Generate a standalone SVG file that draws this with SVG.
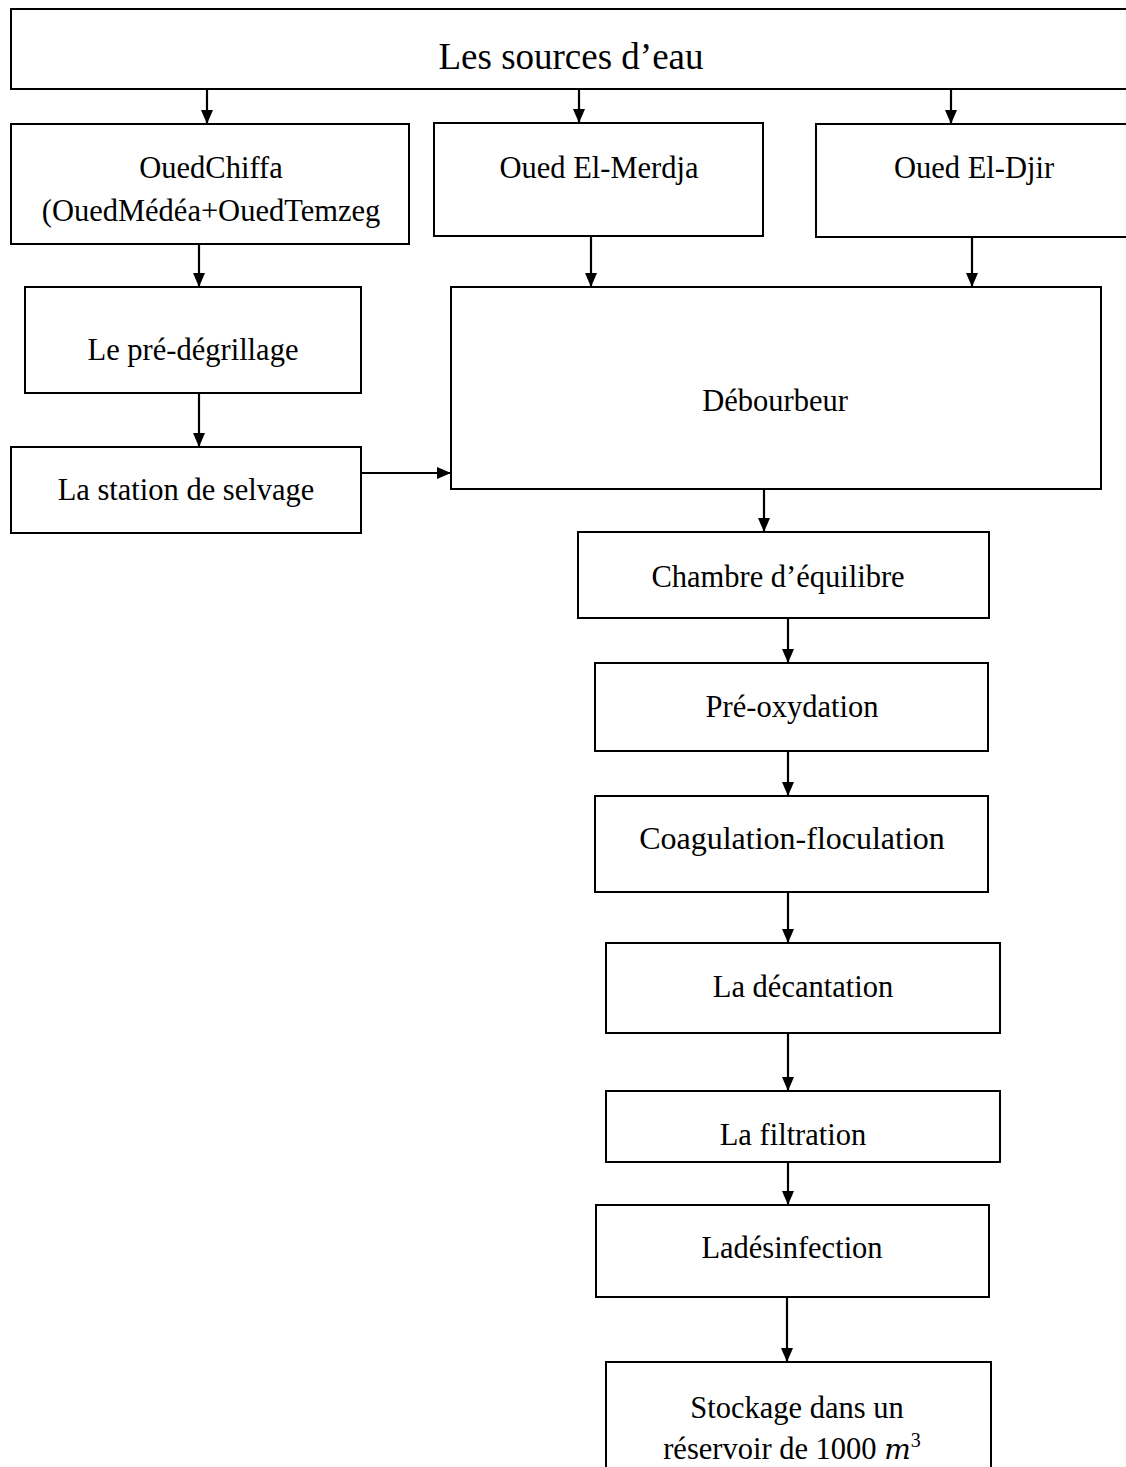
<svg xmlns="http://www.w3.org/2000/svg" width="1126" height="1467" viewBox="0 0 1126 1467">
<defs>
<marker id="ah" markerUnits="userSpaceOnUse" viewBox="0 0 14 12" refX="14" refY="6" markerWidth="14" markerHeight="12" orient="auto">
<path d="M0,0 L14,6 L0,12 z" fill="#000"/>
</marker>
<style>
.box{fill:#fff;stroke:#000;stroke-width:2}
.t{font-family:"Liberation Serif","Times New Roman",serif;font-size:30.5px;fill:#000;text-anchor:middle}
.c{stroke:#000;stroke-width:2.2;fill:none;marker-end:url(#ah)}
</style>
</defs>
<rect width="1126" height="1467" fill="#fff"/>
<g id="sources"><rect class="box" x="11" y="9" width="1130" height="80"/><text class="t" x="571" y="69" style="font-size:37px">Les sources d’eau</text></g>
<g id="chiffa"><rect class="box" x="11" y="124" width="398" height="120"/><text class="t" x="211" y="178">OuedChiffa</text><text class="t" x="211" y="221">(OuedMédéa+OuedTemzeg</text></g>
<g id="merdja"><rect class="box" x="434" y="123" width="329" height="113"/><text class="t" x="599" y="178">Oued El-Merdja</text></g>
<g id="djir"><rect class="box" x="816" y="124" width="330" height="113"/><text class="t" x="974" y="178">Oued El-Djir</text></g>
<g id="predegrillage"><rect class="box" x="25" y="287" width="336" height="106"/><text class="t" x="193" y="360">Le pré-dégrillage</text></g>
<g id="station"><rect class="box" x="11" y="447" width="350" height="86"/><text class="t" x="186" y="500">La station de selvage</text></g>
<g id="debourbeur"><rect class="box" x="451" y="287" width="650" height="202"/><text class="t" x="775" y="411">Débourbeur</text></g>
<g id="chambre"><rect class="box" x="578" y="532" width="411" height="86"/><text class="t" x="778" y="587">Chambre d’équilibre</text></g>
<g id="preoxydation"><rect class="box" x="595" y="663" width="393" height="88"/><text class="t" x="792" y="717">Pré-oxydation</text></g>
<g id="coagulation"><rect class="box" x="595" y="796" width="393" height="96"/><text class="t" x="792" y="849" style="font-size:32px">Coagulation-floculation</text></g>
<g id="decantation"><rect class="box" x="606" y="943" width="394" height="90"/><text class="t" x="803" y="997">La décantation</text></g>
<g id="filtration"><rect class="box" x="606" y="1091" width="394" height="71"/><text class="t" x="793" y="1145">La filtration</text></g>
<g id="desinfection"><rect class="box" x="596" y="1205" width="393" height="92"/><text class="t" x="792" y="1258">Ladésinfection</text></g>
<g id="stockage"><rect class="box" x="606" y="1362" width="385" height="130"/><text class="t" x="797" y="1418">Stockage dans un</text><text class="t" x="792" y="1459">réservoir de 1000 <tspan font-style="italic" font-family="'DejaVu Serif','Liberation Serif',serif" font-size="28">m</tspan><tspan font-size="20" dy="-12">3</tspan></text></g>
<g id="connectors">
<line class="c" x1="207" y1="89" x2="207" y2="124"/>
<line class="c" x1="579" y1="89" x2="579" y2="123"/>
<line class="c" x1="951" y1="89" x2="951" y2="124"/>
<line class="c" x1="199" y1="244" x2="199" y2="287"/>
<line class="c" x1="591" y1="236" x2="591" y2="287"/>
<line class="c" x1="972" y1="237" x2="972" y2="287"/>
<line class="c" x1="199" y1="393" x2="199" y2="447"/>
<line class="c" x1="361" y1="473" x2="451" y2="473"/>
<line class="c" x1="764" y1="489" x2="764" y2="532"/>
<line class="c" x1="788" y1="618" x2="788" y2="663"/>
<line class="c" x1="788" y1="751" x2="788" y2="796"/>
<line class="c" x1="788" y1="892" x2="788" y2="943"/>
<line class="c" x1="788" y1="1033" x2="788" y2="1091"/>
<line class="c" x1="788" y1="1162" x2="788" y2="1205"/>
<line class="c" x1="787" y1="1297" x2="787" y2="1362"/>
</g>
</svg>
